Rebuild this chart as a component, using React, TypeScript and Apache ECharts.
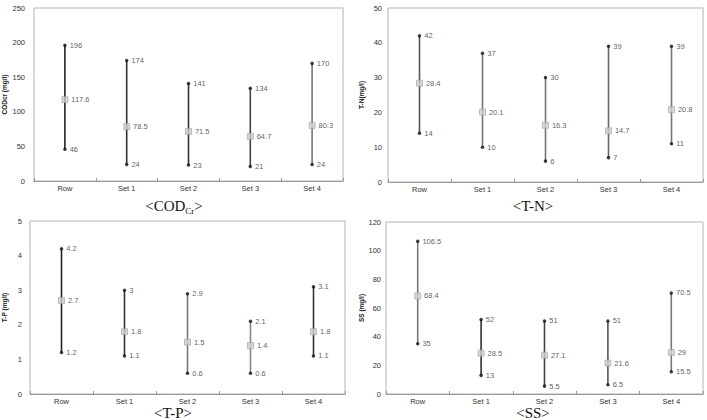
import React, { useEffect, useRef } from "react";
import * as echarts from "echarts";

// Sampling points along the treatment train
const CATEGORIES = ["Row", "Set 1", "Set 2", "Set 3", "Set 4"];

// COD (Cr) in mg/l
const COD_MAX = [196, 174, 141, 134, 170];
const COD_MEAN = [117.6, 78.5, 71.5, 64.7, 80.3];
const COD_MIN = [46, 24, 23, 21, 24];

// Total nitrogen in mg/l
const TN_MAX = [42, 37, 30, 39, 39];
const TN_MEAN = [28.4, 20.1, 16.3, 14.7, 20.8];
const TN_MIN = [14, 10, 6, 7, 11];

// Total phosphorus in mg/l
const TP_MAX = [4.2, 3, 2.9, 2.1, 3.1];
const TP_MEAN = [2.7, 1.8, 1.5, 1.4, 1.8];
const TP_MIN = [1.2, 1.1, 0.6, 0.6, 1.1];

// Suspended solids in mg/l
const SS_MAX = [106.5, 52, 51, 51, 70.5];
const SS_MEAN = [68.4, 28.5, 27.1, 21.6, 29];
const SS_MIN = [35, 13, 5.5, 6.5, 15.5];

// Y-axis ranges: [max, interval]
const COD_AXIS = [250, 50];
const TN_AXIS = [50, 10];
const TP_AXIS = [5, 1];
const SS_AXIS = [120, 20];

const SANS = "'Liberation Sans', Arial, sans-serif";
const SERIF = "'Liberation Serif', 'Times New Roman', serif";

type Panel = {
  max: number[];
  mean: number[];
  min: number[];
  axis: number[];
  yName: string;
  grid: { left: number; top: number; width: number; height: number };
  labelMargin: number;
  nameGap: number;
  strokes: string[];
};

const PANELS: Panel[] = [
  {
    max: COD_MAX, mean: COD_MEAN, min: COD_MIN, axis: COD_AXIS,
    yName: "CODcr (mg/l)",
    grid: { left: 31, top: 8, width: 312, height: 173 },
    labelMargin: 9, nameGap: 26,
    strokes: ["#222", "#333", "#333", "#444", "#777"],
  },
  {
    max: TN_MAX, mean: TN_MEAN, min: TN_MIN, axis: TN_AXIS,
    yName: "T-N(mg/l)",
    grid: { left: 388, top: 8, width: 315, height: 174 },
    labelMargin: 6, nameGap: 23,
    strokes: ["#555", "#777", "#777", "#666", "#777"],
  },
  {
    max: TP_MAX, mean: TP_MEAN, min: TP_MIN, axis: TP_AXIS,
    yName: "T-P (mg/l)",
    grid: { left: 26, top: 221, width: 319, height: 173 },
    labelMargin: 8, nameGap: 22,
    strokes: ["#222", "#333", "#777", "#888", "#333"],
  },
  {
    max: SS_MAX, mean: SS_MEAN, min: SS_MIN, axis: SS_AXIS,
    yName: "SS (mg/l)",
    grid: { left: 386, top: 222, width: 317, height: 172 },
    labelMargin: 5, nameGap: 21,
    strokes: ["#777", "#333", "#444", "#555", "#777"],
  },
];

const valueLabel = {
  show: true,
  position: "right" as const,
  distance: 3,
  fontSize: 7.5,
  fontFamily: SANS,
  color: "#333",
  formatter: (p: any) => String(p.value),
};

function buildOption() {
  const grid: any[] = [];
  const xAxis: any[] = [];
  const yAxis: any[] = [];
  const series: any[] = [];

  PANELS.forEach((p, i) => {
    grid.push({
      ...p.grid,
      show: true,
      borderColor: "#b4b4b4",
      borderWidth: 1,
      backgroundColor: "#fff",
    });
    xAxis.push({
      type: "category",
      gridIndex: i,
      data: CATEGORIES,
      boundaryGap: true,
      axisLine: { lineStyle: { color: "#999", width: 1 } },
      axisTick: { show: true, inside: true, length: 3, lineStyle: { color: "#999" } },
      axisLabel: { fontSize: 7.5, fontFamily: SANS, color: "#333", margin: 3 },
    });
    yAxis.push({
      type: "value",
      gridIndex: i,
      min: 0,
      max: p.axis[0],
      interval: p.axis[1],
      name: p.yName,
      nameLocation: "middle",
      nameRotate: 90,
      nameGap: p.nameGap,
      nameTextStyle: { fontSize: 6.5, fontWeight: "bold", fontFamily: SANS, color: "#222" },
      axisLine: { show: false },
      axisTick: { show: false },
      splitLine: { show: false },
      axisLabel: { fontSize: 7.5, fontFamily: SANS, color: "#333", margin: p.labelMargin },
    });

    const ranges = CATEGORIES.map((_, k) => [k, p.min[k], p.max[k]]);
    series.push({
      type: "custom",
      xAxisIndex: i,
      yAxisIndex: i,
      z: 1,
      data: ranges,
      encode: { x: 0, y: [1, 2] },
      renderItem: (params: any, api: any) => {
        const k = api.value(0);
        const lo = api.coord([k, api.value(1)]);
        const hi = api.coord([k, api.value(2)]);
        return {
          type: "line",
          shape: { x1: lo[0], y1: lo[1], x2: hi[0], y2: hi[1] },
          style: { stroke: p.strokes[params.dataIndex], lineWidth: 1.6 },
        };
      },
    });
    series.push({
      type: "scatter",
      xAxisIndex: i,
      yAxisIndex: i,
      z: 3,
      data: p.max,
      symbol: "circle",
      symbolSize: 3.5,
      itemStyle: { color: "#111" },
      label: valueLabel,
    });
    series.push({
      type: "scatter",
      xAxisIndex: i,
      yAxisIndex: i,
      z: 3,
      data: p.min,
      symbol: "circle",
      symbolSize: 3.5,
      itemStyle: { color: "#111" },
      label: valueLabel,
    });
    series.push({
      type: "scatter",
      xAxisIndex: i,
      yAxisIndex: i,
      z: 4,
      data: p.mean,
      symbol: "rect",
      symbolSize: 6,
      itemStyle: { color: "#cfcfcf", borderColor: "#a0a0a0", borderWidth: 0.8 },
      label: valueLabel,
    });
  });

  const caption = (x: number, y: number, text: string) => ({
    type: "text",
    x,
    y,
    style: {
      text,
      align: "center",
      verticalAlign: "middle",
      font: `15px ${SERIF}`,
      fill: "#111",
      rich: {
        m: { fontSize: 15, fontFamily: SERIF, color: "#111", lineHeight: 14, verticalAlign: "bottom" },
        s: { fontSize: 9, fontFamily: SERIF, color: "#111", lineHeight: 14, verticalAlign: "bottom", padding: [0, 0, -2, 0] },
      },
    },
  });

  return {
    animation: false,
    backgroundColor: "#fff",
    grid,
    xAxis,
    yAxis,
    series,
    graphic: [
      caption(174, 206, "{m|<COD}{s|Cr}{m|>}"),
      caption(533, 206, "{m|<T-N>}"),
      caption(173, 413, "{m|<T-P>}"),
      caption(533, 413, "{m|<SS>}"),
    ],
  };
}

export default function App() {
  const ref = useRef<HTMLDivElement>(null);
  useEffect(() => {
    if (!ref.current) return;
    const chart = echarts.init(ref.current, null, { renderer: "svg" });
    chart.setOption(buildOption() as any);
    return () => chart.dispose();
  }, []);
  return (
    <div
      ref={ref}
      style={{ position: "absolute", left: 0, top: 0, width: 707, height: 420, background: "#fff" }}
    />
  );
}
